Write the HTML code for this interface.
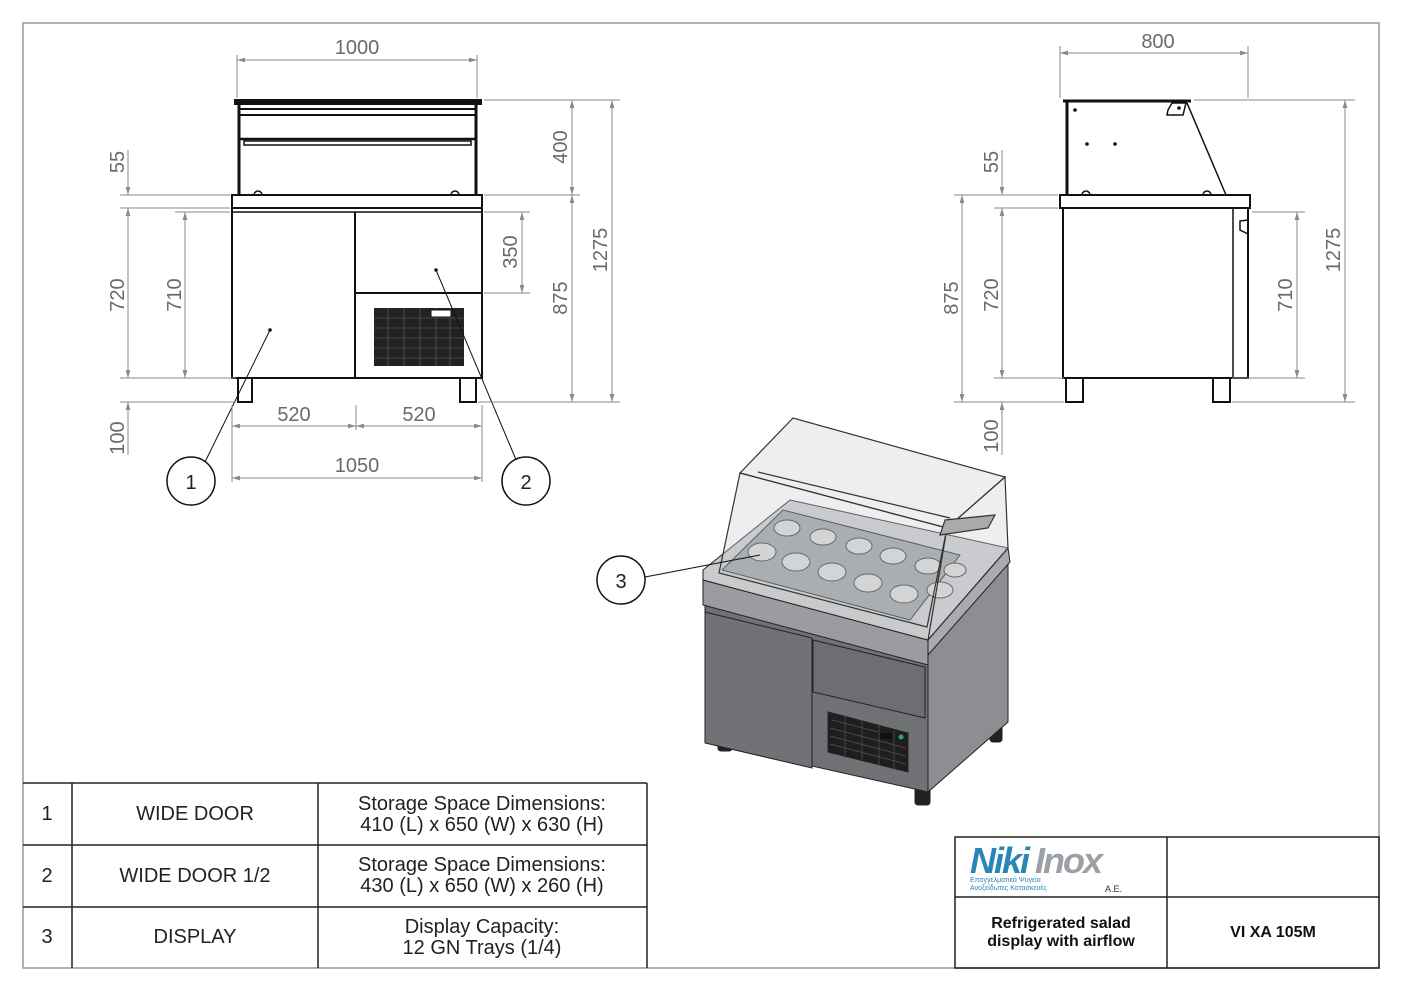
<!DOCTYPE html>
<html><head><style>
html,body{margin:0;padding:0;background:#fff}
svg{display:block}
.d{stroke:#8a8a8a;stroke-width:1;fill:none}
.t{font-family:"Liberation Sans",sans-serif;font-size:20px;fill:#6a6a6a}
.k{stroke:#111;stroke-width:2;fill:none}
.tb{font-family:"Liberation Sans",sans-serif;font-size:20px;fill:#222}
</style></head><body>
<svg width="1403" height="992" viewBox="0 0 1403 992" xmlns="http://www.w3.org/2000/svg">
<defs>
<marker id="a" viewBox="0 0 10 10" refX="10" refY="5" markerWidth="8" markerHeight="8" orient="auto-start-reverse"><path d="M0,2 L10,5 L0,8z" fill="#8a8a8a"/></marker>
</defs>
<rect x="23" y="23" width="1356" height="945" fill="none" stroke="#999" stroke-width="1.5"/>

<!-- FRONT VIEW -->
<g class="k">
<rect x="235" y="100" width="246" height="4" fill="#111"/>
<line x1="239" y1="104" x2="239" y2="195" stroke-width="3"/>
<line x1="476" y1="104" x2="476" y2="195" stroke-width="3"/>
<line x1="240" y1="109" x2="475" y2="109"/>
<line x1="240" y1="115" x2="475" y2="115"/>
<line x1="240" y1="139" x2="475" y2="139" stroke-width="2.5"/>
<rect x="244" y="141" width="227" height="4" stroke-width="1.5"/>
<rect x="232" y="195" width="250" height="13"/>
<rect x="232" y="208" width="250" height="170"/>
<line x1="232" y1="212" x2="482" y2="212" stroke-width="1.5"/>
<line x1="355" y1="212" x2="355" y2="378"/>
<line x1="355" y1="293" x2="482" y2="293"/>
<rect x="238" y="378" width="14" height="24"/>
<rect x="460" y="378" width="16" height="24"/>
<path d="M254,195 a4,4 0 0 1 8,0 M451,195 a4,4 0 0 1 8,0" stroke-width="1.5"/>
</g>
<rect x="374" y="308" width="90" height="58" fill="#222"/>
<g stroke="#666" stroke-width="0.6">
<line x1="374" y1="318" x2="464" y2="318"/><line x1="374" y1="328" x2="464" y2="328"/><line x1="374" y1="338" x2="464" y2="338"/><line x1="374" y1="348" x2="464" y2="348"/><line x1="374" y1="358" x2="464" y2="358"/>
<line x1="388" y1="308" x2="388" y2="366"/><line x1="404" y1="308" x2="404" y2="366"/><line x1="420" y1="308" x2="420" y2="366"/><line x1="436" y1="308" x2="436" y2="366"/><line x1="450" y1="308" x2="450" y2="366"/>
</g>
<rect x="431" y="310" width="20" height="7" fill="#fff" stroke="#111"/>
<circle cx="270" cy="330" r="1.8" fill="#111"/><circle cx="436" cy="270" r="1.8" fill="#111"/>
<line x1="270" y1="330" x2="205" y2="462" stroke="#111"/>
<line x1="436" y1="270" x2="517" y2="462" stroke="#111"/>
<circle cx="191" cy="481" r="24" fill="#fff" stroke="#111" stroke-width="1.5"/>
<text x="191" y="489" text-anchor="middle" class="tb">1</text>
<circle cx="526" cy="481" r="24" fill="#fff" stroke="#111" stroke-width="1.5"/>
<text x="526" y="489" text-anchor="middle" class="tb">2</text>

<g class="d">
<line x1="237" y1="55" x2="237" y2="98"/><line x1="477" y1="55" x2="477" y2="98"/>
<line x1="237" y1="60" x2="477" y2="60" marker-start="url(#a)" marker-end="url(#a)"/>
<line x1="232" y1="405" x2="232" y2="482"/><line x1="482" y1="405" x2="482" y2="482"/><line x1="356" y1="405" x2="356" y2="430"/>
<line x1="232" y1="426" x2="356" y2="426" marker-start="url(#a)" marker-end="url(#a)"/>
<line x1="356" y1="426" x2="482" y2="426" marker-start="url(#a)" marker-end="url(#a)"/>
<line x1="232" y1="478" x2="482" y2="478" marker-start="url(#a)" marker-end="url(#a)"/>
<line x1="120" y1="195" x2="230" y2="195"/><line x1="120" y1="208" x2="230" y2="208"/><line x1="120" y1="378" x2="236" y2="378"/><line x1="120" y1="402" x2="236" y2="402"/><line x1="175" y1="212" x2="230" y2="212"/>
<line x1="128" y1="150" x2="128" y2="195" marker-end="url(#a)"/><line x1="128" y1="208" x2="128" y2="378" marker-start="url(#a)" marker-end="url(#a)"/><line x1="128" y1="402" x2="128" y2="455" marker-start="url(#a)"/>
<line x1="185" y1="212" x2="185" y2="378" marker-start="url(#a)" marker-end="url(#a)"/>
<line x1="484" y1="100" x2="620" y2="100"/><line x1="484" y1="195" x2="580" y2="195"/><line x1="484" y1="212" x2="530" y2="212"/><line x1="484" y1="293" x2="530" y2="293"/><line x1="478" y1="402" x2="620" y2="402"/>
<line x1="522" y1="212" x2="522" y2="293" marker-start="url(#a)" marker-end="url(#a)"/>
<line x1="572" y1="100" x2="572" y2="195" marker-start="url(#a)" marker-end="url(#a)"/>
<line x1="572" y1="195" x2="572" y2="402" marker-start="url(#a)" marker-end="url(#a)"/>
<line x1="612" y1="100" x2="612" y2="402" marker-start="url(#a)" marker-end="url(#a)"/>
</g>
<g class="t">
<text x="357" y="54" text-anchor="middle">1000</text>
<text x="294" y="421" text-anchor="middle">520</text>
<text x="419" y="421" text-anchor="middle">520</text>
<text x="357" y="472" text-anchor="middle">1050</text>
<text transform="translate(124,162) rotate(-90)" text-anchor="middle">55</text>
<text transform="translate(124,295) rotate(-90)" text-anchor="middle">720</text>
<text transform="translate(124,438) rotate(-90)" text-anchor="middle">100</text>
<text transform="translate(181,295) rotate(-90)" text-anchor="middle">710</text>
<text transform="translate(517,252) rotate(-90)" text-anchor="middle">350</text>
<text transform="translate(567,147) rotate(-90)" text-anchor="middle">400</text>
<text transform="translate(567,298) rotate(-90)" text-anchor="middle">875</text>
<text transform="translate(607,250) rotate(-90)" text-anchor="middle">1275</text>
</g>

<!-- SIDE VIEW -->
<g class="k">
<line x1="1063" y1="101" x2="1191" y2="101" stroke-width="3"/>
<line x1="1067" y1="101" x2="1067" y2="195" stroke-width="3"/>
<path d="M1168,110 L1172,103 L1186,103 L1183,115 L1167,115z" stroke-width="1.5"/>
<line x1="1187" y1="103" x2="1226" y2="195" stroke-width="1.5"/>
<rect x="1060" y="195" width="190" height="13"/>
<rect x="1063" y="208" width="185" height="170"/>
<line x1="1233" y1="208" x2="1233" y2="378" stroke-width="1.5"/>
<path d="M1248,220 L1240,221 L1240,230 L1248,234" stroke-width="1.5"/>
<rect x="1066" y="378" width="17" height="24"/>
<rect x="1213" y="378" width="17" height="24"/>
<path d="M1082,195 a4,4 0 0 1 8,0 M1203,195 a4,4 0 0 1 8,0" stroke-width="1.5"/>
</g>
<circle cx="1075" cy="110" r="1.8" fill="#111"/><circle cx="1179" cy="108" r="1.8" fill="#111"/><circle cx="1087" cy="144" r="1.8" fill="#111"/><circle cx="1115" cy="144" r="1.8" fill="#111"/>
<g class="d">
<line x1="1060" y1="46" x2="1060" y2="98"/><line x1="1248" y1="46" x2="1248" y2="98"/>
<line x1="1060" y1="53" x2="1248" y2="53" marker-start="url(#a)" marker-end="url(#a)"/>
<line x1="1194" y1="100" x2="1355" y2="100"/><line x1="1252" y1="212" x2="1305" y2="212"/><line x1="1232" y1="378" x2="1305" y2="378"/><line x1="1232" y1="402" x2="1355" y2="402"/>
<line x1="954" y1="195" x2="1058" y2="195"/><line x1="994" y1="208" x2="1058" y2="208"/><line x1="954" y1="402" x2="1064" y2="402"/><line x1="994" y1="378" x2="1064" y2="378"/>
<line x1="962" y1="195" x2="962" y2="402" marker-start="url(#a)" marker-end="url(#a)"/>
<line x1="1002" y1="150" x2="1002" y2="195" marker-end="url(#a)"/>
<line x1="1002" y1="208" x2="1002" y2="378" marker-start="url(#a)" marker-end="url(#a)"/>
<line x1="1002" y1="402" x2="1002" y2="455" marker-start="url(#a)"/>
<line x1="1297" y1="212" x2="1297" y2="378" marker-start="url(#a)" marker-end="url(#a)"/>
<line x1="1345" y1="100" x2="1345" y2="402" marker-start="url(#a)" marker-end="url(#a)"/>
</g>
<g class="t">
<text x="1158" y="48" text-anchor="middle">800</text>
<text transform="translate(958,298) rotate(-90)" text-anchor="middle">875</text>
<text transform="translate(998,162) rotate(-90)" text-anchor="middle">55</text>
<text transform="translate(998,295) rotate(-90)" text-anchor="middle">720</text>
<text transform="translate(998,436) rotate(-90)" text-anchor="middle">100</text>
<text transform="translate(1292,295) rotate(-90)" text-anchor="middle">710</text>
<text transform="translate(1340,250) rotate(-90)" text-anchor="middle">1275</text>
</g>

<!-- 3D VIEW -->
<g stroke="#222" stroke-width="1">
<rect x="718" y="735" width="14" height="16" fill="#222" rx="3"/>
<rect x="915" y="785" width="15" height="20" fill="#222" rx="3"/>
<rect x="990" y="720" width="12" height="22" fill="#222" rx="3"/>
<polygon points="928,652 1008,560 1008,722 928,792" fill="#8c8e92"/>
<polygon points="705,605 928,660 928,792 705,742" fill="#6f7175"/>
<polygon points="705,612 812,638 812,768 705,743" fill="#707276"/>
<polygon points="813,640 925,667 925,718 813,692" fill="#6c6e72"/>
<polygon points="828,712 908,733 908,772 828,752" fill="#1e1e1e"/>
<polygon points="703,580 928,640 928,665 703,605" fill="#9a9ca0"/>
<polygon points="703,570 790,500 1008,548 928,640 703,580" fill="#c9cacc"/>
<polygon points="928,640 1008,548 1010,562 928,655" fill="#a9abae"/>
<polygon points="722,570 783,510 960,555 910,620" fill="#9b9da0"/>
</g>
<g stroke="#555" stroke-width="0.7">
<line x1="832" y1="720" x2="878" y2="732"/><line x1="830" y1="728" x2="906" y2="748"/><line x1="830" y1="736" x2="906" y2="756"/><line x1="830" y1="744" x2="906" y2="764"/>
<line x1="845" y1="716" x2="845" y2="756"/><line x1="862" y1="720" x2="862" y2="760"/><line x1="879" y1="725" x2="879" y2="765"/><line x1="894" y1="730" x2="894" y2="769"/>
</g>
<rect x="880" y="733" width="12" height="6" fill="#111"/>
<circle cx="901" cy="737" r="2.5" fill="#2a6"/>
<g fill="#d8d8d8" stroke="#333" stroke-width="1">
<ellipse cx="762" cy="552" rx="14" ry="9"/><ellipse cx="796" cy="562" rx="14" ry="9"/><ellipse cx="832" cy="572" rx="14" ry="9"/><ellipse cx="868" cy="583" rx="14" ry="9"/><ellipse cx="904" cy="594" rx="14" ry="9"/>
<ellipse cx="787" cy="528" rx="13" ry="8"/><ellipse cx="823" cy="537" rx="13" ry="8"/><ellipse cx="859" cy="546" rx="13" ry="8"/><ellipse cx="893" cy="556" rx="13" ry="8"/><ellipse cx="928" cy="566" rx="13" ry="8"/>
<ellipse cx="940" cy="590" rx="13" ry="8"/><ellipse cx="955" cy="570" rx="11" ry="7"/>
</g>
<g stroke="#333" stroke-width="1.2" fill="rgba(200,205,210,0.35)">
<polygon points="740,473 793,418 1005,477 947,528"/>
<polygon points="740,473 947,528 927,627 719,573"/>
<polygon points="947,528 1005,477 1008,548 928,640"/>
<line x1="758" y1="472" x2="950" y2="518"/>
<polygon points="945,520 995,515 988,528 940,535" fill="#aaa"/>
</g>
<line x1="645" y1="577" x2="760" y2="555" stroke="#111"/>
<circle cx="621" cy="580" r="24" fill="#fff" stroke="#111" stroke-width="1.5"/>
<text x="621" y="588" text-anchor="middle" class="tb">3</text>

<!-- TABLE -->
<g stroke="#222" stroke-width="1.5" fill="none">
<line x1="23" y1="783" x2="647" y2="783"/><line x1="23" y1="845" x2="647" y2="845"/><line x1="23" y1="907" x2="647" y2="907"/>
<line x1="647" y1="783" x2="647" y2="968"/><line x1="72" y1="783" x2="72" y2="968"/><line x1="318" y1="783" x2="318" y2="968"/>
<rect x="955" y="837" width="424" height="131"/>
<line x1="955" y1="897" x2="1379" y2="897"/><line x1="1167" y1="837" x2="1167" y2="968"/>
</g>
<g class="tb" text-anchor="middle">
<text x="47" y="820">1</text><text x="47" y="882">2</text><text x="47" y="943">3</text>
<text x="195" y="820">WIDE DOOR</text><text x="195" y="882">WIDE DOOR 1/2</text><text x="195" y="943">DISPLAY</text>
<text x="482" y="810">Storage Space Dimensions:</text><text x="482" y="831">410 (L) x 650 (W) x 630 (H)</text>
<text x="482" y="871">Storage Space Dimensions:</text><text x="482" y="892">430 (L) x 650 (W) x 260 (H)</text>
<text x="482" y="933">Display Capacity:</text><text x="482" y="954">12 GN Trays (1/4)</text>
</g>
<text x="970" y="873" style="font-family:'Liberation Sans',sans-serif;font-size:36px;font-weight:bold;font-style:italic;fill:#2a86b8;letter-spacing:-2px">Niki</text>
<text x="1035" y="873" style="font-family:'Liberation Sans',sans-serif;font-size:36px;font-weight:bold;font-style:italic;fill:#9aa0a6;letter-spacing:-2px">Inox</text>
<text x="970" y="882" style="font-family:'Liberation Sans',sans-serif;font-size:7px;fill:#2a86b8">Επαγγελματικά Ψυγεία</text>
<text x="970" y="890" style="font-family:'Liberation Sans',sans-serif;font-size:7px;fill:#2a86b8">Ανοξείδωτες Κατασκευές</text>
<text x="1105" y="892" style="font-family:'Liberation Sans',sans-serif;font-size:9px;fill:#333">A.E.</text>
<g style="font-family:'Liberation Sans',sans-serif;font-size:16px;font-weight:bold;fill:#111" text-anchor="middle">
<text x="1061" y="928">Refrigerated salad</text>
<text x="1061" y="946">display with airflow</text>
<text x="1273" y="937">VI XA 105M</text>
</g>
</svg>
</body></html>
